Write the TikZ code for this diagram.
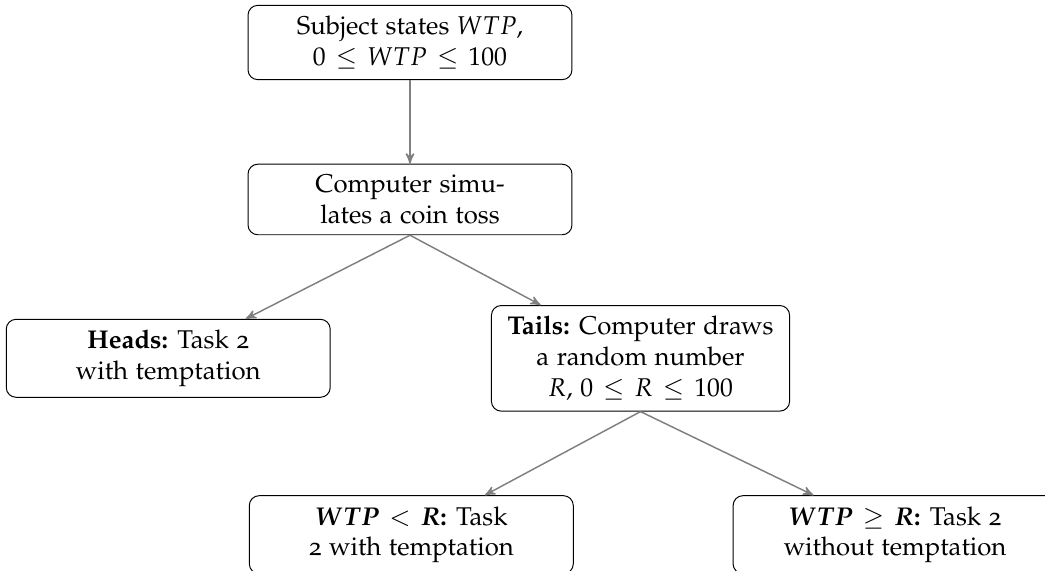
\documentclass[tikz,border=0pt]{standalone}
\usepackage[T1]{fontenc}
\usepackage[osf]{mathpazo}
\usepackage{amsmath}
\usetikzlibrary{arrows, positioning}
\thickmuskip=7mu plus 5mu

\begin{document}
\begin{tikzpicture}[>=stealth', node distance=1.2cm,
    box/.style={draw, rounded corners, align=center, minimum width=4.65cm,
        inner xsep=3pt, inner ysep=4.4pt, font=\fontsize{10.5pt}{12.5pt}\selectfont},
    link/.style={->, gray, line width=0.6pt}]
    \path[use as bounding box, clip] (0,0) rectangle (15,-8.196);

    %define the boxes of the tree
    \node[box] (wtp) at (5.885,-0.61) {Subject states $WTP$,\\ $0 \leq WTP \leq 100$};
    \node[box] (toss) [below=of wtp] {Computer simu-\\lates a coin toss};
    \node[box] (heads) [below=of toss, xshift=-3.47cm] {\textbf{Heads:} Task 2\\ with temptation};
    \node[box, minimum width=4.28cm] (tails) [right=2.3cm of heads]
        {\textbf{Tails:} Computer draws\\ a random number\\ $R$, $0 \leq R \leq 100$};
    \node[box] (lower) [below=of tails, xshift=-3.29cm]
        {$\boldsymbol{WTP} < \boldsymbol{R}$\textbf{:} Task\\ 2 with temptation};
    \node[box] (higher) [right=2.28cm of lower]
        {$\boldsymbol{WTP} \geq \boldsymbol{R}$\textbf{:} Task 2\\ without temptation};

    %define the links
    \path[link] (wtp) edge (toss)
          (toss.south) edge (heads)
                       edge (tails)
          (tails.south) edge (lower)
                        edge (higher);
\end{tikzpicture}
\end{document}
